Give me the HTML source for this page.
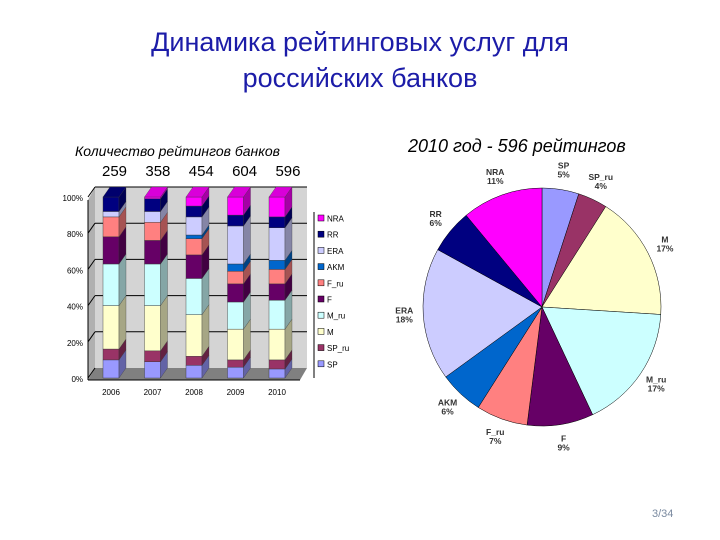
<!DOCTYPE html>
<html><head><meta charset="utf-8">
<style>
html,body{margin:0;padding:0;background:#fff;}
body{width:720px;height:540px;position:relative;overflow:hidden;font-family:"Liberation Sans","DejaVu Sans",sans-serif;}
.t{position:absolute;white-space:nowrap;}
</style></head>
<body>
<div class="t" style="left:0;width:720px;top:24px;text-align:center;font-size:27px;line-height:36px;color:#1c1ca8;">Динамика рейтинговых услуг для<br>российских банков</div>
<div class="t" style="left:75px;top:143px;font-size:14px;font-style:italic;color:#000;">Количество рейтингов банков</div>
<div class="t" style="left:102px;top:163px;font-size:15px;color:#000;word-spacing:5px;">259 &nbsp;358 &nbsp;454 &nbsp;604 &nbsp;596</div>
<div class="t" style="left:408px;top:136px;font-size:18px;font-style:italic;color:#000;">2010 год - 596 рейтингов</div>
<div class="t" style="left:652px;top:508px;font-size:11px;color:#7a8aa0;">3/34</div>

<svg id="bar" width="720" height="540" style="position:absolute;left:0;top:0" xmlns="http://www.w3.org/2000/svg"></svg>

<script>
const years=["2006","2007","2008","2009","2010"];
const seriesNames=["SP","SP_ru","M","M_ru","F","F_ru","AKM","ERA","RR","NRA"];
const colors=["#9999ff","#993366","#ffffcc","#ccffff","#660066","#ff8080","#0066cc","#ccccff","#000080","#ff00ff"];
const sp=[10,9,7,6,5];
const spRu=[6,6,5,4,5];
const m=[24,25,23,17,17];
const mRu=[23,23,20,15,16];
const f=[15,13,13,10,9];
const fRu=[11,10,9,7,8];
const akm=[0,0,2,4,5];
const era=[3,6,10,21,18];
const rr=[8,7,6,6,6];
const nra=[0,1,5,10,11];
const yTicks=["0%","20%","40%","60%","80%","100%"];
const pieLabels=["SP","SP_ru","M","M_ru","F","F_ru","AKM","ERA","RR","NRA"];
const pieValues=[5,4,17,17,9,7,6,18,6,11];

const NS="http://www.w3.org/2000/svg";
const svg=document.getElementById('bar');
function mk(tag,attrs,parent){const e=document.createElementNS(NS,tag);for(const k in attrs)e.setAttribute(k,attrs[k]);(parent||svg).appendChild(e);return e;}
function shade(hex,k){const n=parseInt(hex.slice(1),16);let r=(n>>16)&255,g=(n>>8)&255,b=n&255;r=Math.round(r*k);g=Math.round(g*k);b=Math.round(b*k);return `rgb(${r},${g},${b})`;}

const all=[sp,spRu,m,mRu,f,fRu,akm,era,rr,nra];
const y0=378,y100=197;
const yScale=v=>y0-(y0-y100)*v/100;
const xCenter=i=>111+i*41.5;
const bw=16,dx=7,dy=-10;

const wall=mk('rect',{x:95,y:187,width:212,height:181,style:'fill:#d4d4d4'});

mk('polygon',{points:`88,200 95,187 95,368 88,380`,style:'fill:#b0b0b0'});
const floor=mk('polygon',{points:`88,380 95,368 307,368 300,380`,fill:'#808080'});

yTicks.forEach((t,i)=>{
  const v=i*20;const yf=yScale(v);const yb=187+(368-187)*(1-v/100);
  if(i>0){const gl=mk('line',{x1:95,y1:yb,x2:307,y2:yb,stroke:'#000','stroke-width':1});
    }
  mk('line',{x1:88,y1:yf,x2:95,y2:yb,stroke:'#000','stroke-width':1});
  const tx=mk('text',{x:83,y:yf+4,'text-anchor':'end','font-size':8,fill:'#000'});
  tx.textContent=t;
});
mk('line',{x1:88,y1:200,x2:88,y2:380,stroke:'#000'});
mk('line',{x1:88,y1:380,x2:300,y2:380,stroke:'#000'});

years.forEach((yr,i)=>{
  const xc=xCenter(i),x=xc-bw/2;let acc=0;
  const g=mk('g',{});
  all.forEach((arr,s)=>{
    const v=arr[i];if(v<=0)return;
    const yb=yScale(acc),yt=yScale(acc+v);acc+=v;
    const r=mk('rect',{x:x,y:yt,width:bw,height:yb-yt,fill:colors[s],stroke:'#333','stroke-width':0.4},g);
    
    mk('polygon',{points:`${x+bw},${yb} ${x+bw+dx},${yb+dy} ${x+bw+dx},${yt+dy} ${x+bw},${yt}`,fill:shade(colors[s],0.65),stroke:'#333','stroke-width':0.3},g);
  });
  const yt=yScale(acc);let top=9;while(top>=0&&all[top][i]<=0)top--;
  mk('polygon',{points:`${x},${yt} ${x+dx},${yt+dy} ${x+bw+dx},${yt+dy} ${x+bw},${yt}`,fill:shade(colors[top],0.85),stroke:'#333','stroke-width':0.3},g);
  const lb=mk('text',{x:xc,y:395,'text-anchor':'middle','font-size':8,fill:'#000'});
  lb.textContent=yr;
});

mk('line',{x1:314,y1:212,x2:314,y2:378,stroke:'#000'});
for(let s=9;s>=0;s--){
  const k=9-s;const ly=219+k*16.2;
  const sw=mk('rect',{x:318,y:ly-4,width:6,height:6,fill:colors[s],stroke:'#000','stroke-width':0.5});
  
  const lt=mk('text',{x:327,y:ly+2.5,'font-size':8,fill:'#000'});
  lt.textContent=seriesNames[s];
}

const cx=542,cy=307,R=119;
const total=pieValues.reduce((a,b)=>a+b,0);
let ang=0;
pieValues.forEach((v,i)=>{
  const a0=ang/total*2*Math.PI,a1=(ang+v)/total*2*Math.PI;ang+=v;
  const p0=[cx+R*Math.sin(a0),cy-R*Math.cos(a0)],p1=[cx+R*Math.sin(a1),cy-R*Math.cos(a1)];
  const large=(a1-a0)>Math.PI?1:0;
  const p=mk('path',{d:`M${cx},${cy} L${p0[0]},${p0[1]} A${R},${R} 0 ${large} 1 ${p1[0]},${p1[1]} Z`,fill:colors[i],stroke:'#000','stroke-width':0.5});
  
  const am=(a0+a1)/2;const lr=R+19;
  const lx=cx+lr*Math.sin(am),ly=cy-lr*Math.cos(am);
  const t=mk('text',{x:lx,y:ly-2,'text-anchor':'middle','font-size':8.5,'font-weight':'bold',fill:'#333'});
  
  const t1=mk('tspan',{x:lx,dy:0},t);t1.textContent=pieLabels[i];
  const t2=mk('tspan',{x:lx,dy:9},t);t2.textContent=v+'%';
});
</script>
</body></html>
